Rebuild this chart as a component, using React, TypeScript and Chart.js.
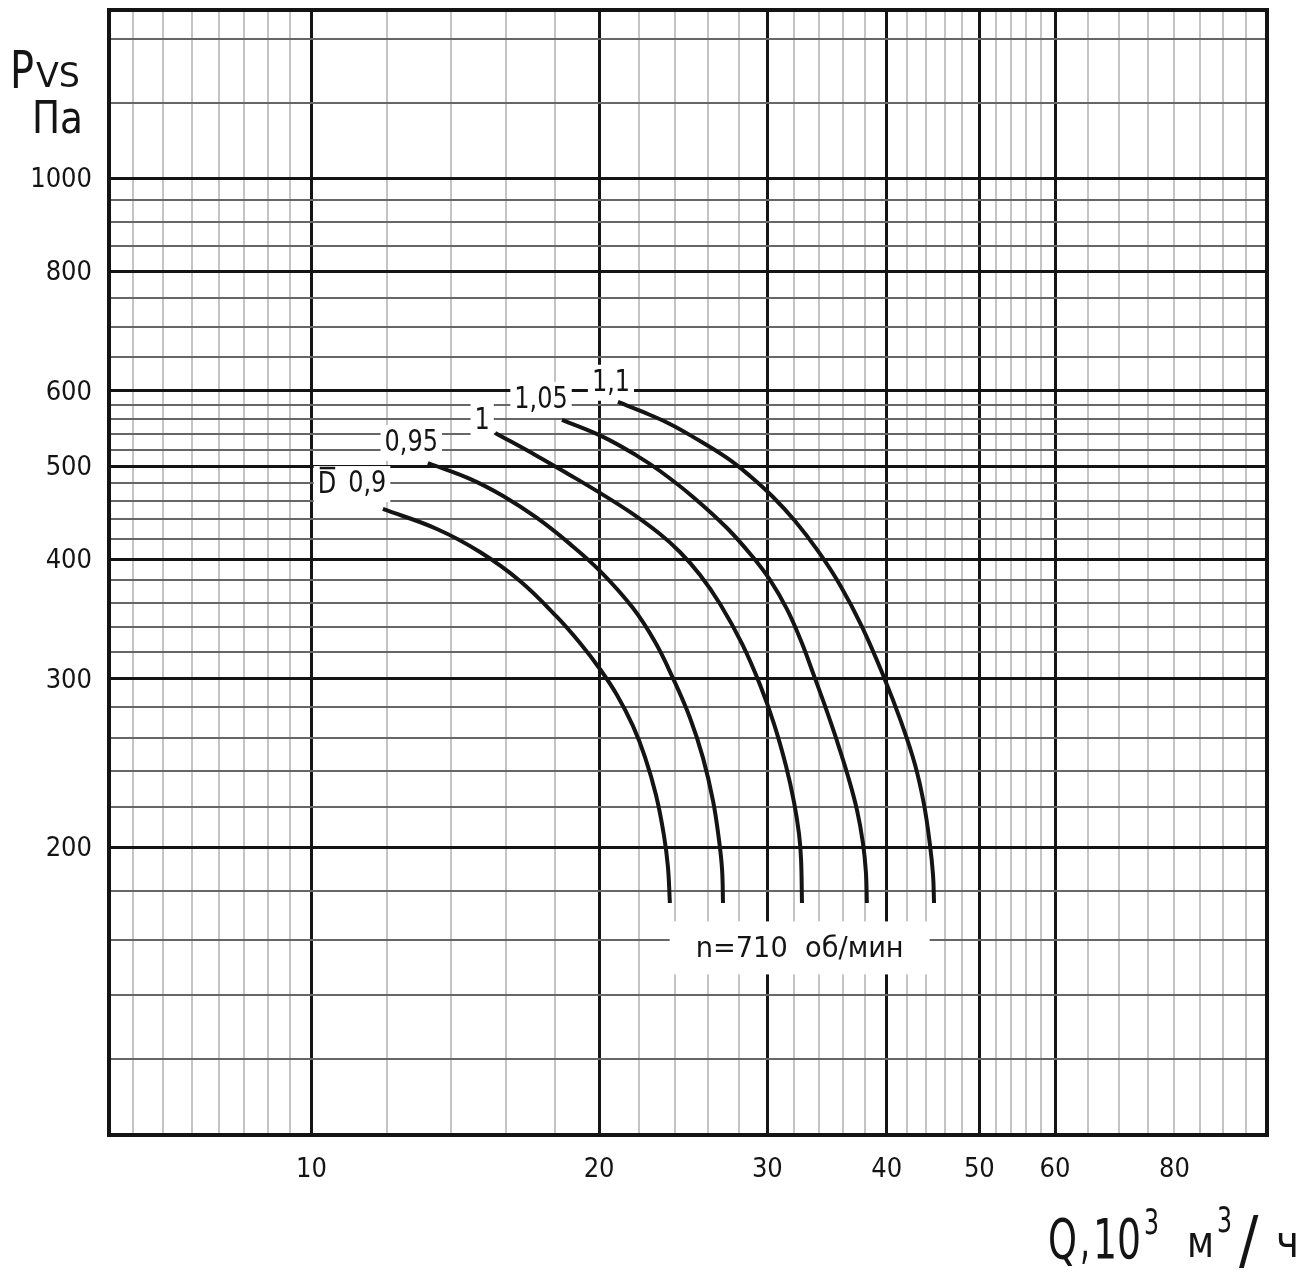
import React, { useEffect, useRef } from 'react';
import { Chart, registerables } from 'chart.js';

Chart.register(...registerables);

const FONT = '"DejaVu Sans Condensed", "DejaVu Sans", sans-serif';

// Q, 10^3 m3/h  and  Pvs, Pa  for each relative diameter D
const q090 = [11.88, 13.53, 15.01, 16.53, 18.07, 19.1, 20.04, 20.88, 21.7, 22.34, 22.94, 23.38, 23.61, 23.72];
const p090 = [451.3, 430.1, 406.9, 379.5, 348.0, 326.8, 307.0, 288.4, 267.7, 248.4, 226.7, 205.9, 190.6, 174.8];

const q095 = [13.24, 14.65, 15.87, 17.22, 18.64, 20.04, 21.7, 22.89, 23.89, 24.9, 25.69, 26.32, 26.7, 26.9, 26.96];
const p095 = [504.1, 485.2, 465.6, 441.6, 414.9, 388.8, 355.5, 327.6, 300.5, 272.9, 247.9, 223.5, 203.5, 189.3, 174.8];

const q100 = [15.57, 17.22, 18.64, 20.04, 21.54, 23.16, 24.3, 25.51, 26.77, 28.23, 29.48, 30.49, 31.38, 31.99, 32.38, 32.54, 32.61];
const p100 = [542.0, 512.8, 489.8, 469.1, 448.1, 424.9, 406.9, 385.0, 359.0, 326.1, 295.4, 268.9, 243.1, 222.9, 206.4, 193.9, 174.8];

const q105 = [18.29, 20.19, 21.92, 23.16, 25.08, 27.22, 28.91, 30.19, 31.45, 32.54, 33.49, 34.47, 35.48, 36.43, 37.23, 37.77, 38.04, 38.13];
const p105 = [559.2, 536.8, 512.8, 494.5, 464.6, 431.1, 402.9, 380.4, 354.6, 328.4, 304.1, 280.9, 258.2, 237.3, 218.7, 202.0, 188.4, 174.8];

const q110 = [20.93, 22.23, 23.72, 25.08, 27.22, 28.77, 30.34, 32.07, 33.89, 35.74, 37.69, 39.72, 41.41, 42.83, 43.77, 44.39, 44.72, 44.83];
const p110 = [583.9, 570.0, 553.8, 536.8, 510.3, 488.6, 465.6, 438.4, 407.9, 375.8, 339.8, 301.2, 270.3, 243.7, 221.3, 201.1, 187.0, 174.8];

const seriesQ = [q090, q095, q100, q105, q110];
const seriesP = [p090, p095, p100, p105, p110];

// curve labels (relative diameter) and their anchor values
const curveLabels = ['0,9', '0,95', '1', '1,05', '1,1'];
const curveLabelQ = [11.44, 12.72, 15.09, 17.39, 20.58];
const curveLabelP = [479.2, 529.1, 557.9, 586.9, 611.5];

const speedLabel = 'n=710  об/мин';
const speedLabelQ = 32.43;
const speedLabelP = 156.7;

// axes
const qMin = 6.14;
const qMax = 100;
const pMin = 100;
const pMax = 1500;
const qGrid = [6.5, 7, 7.5, 8, 8.5, 9, 9.5, 10, 12, 14, 16, 18, 20, 22, 24, 26, 28, 30, 32, 34, 36, 38, 40, 42, 44, 46, 48, 50, 52, 54, 56, 58, 60, 65, 70, 75, 80, 85, 90, 95];
const qMajor = [10, 20, 30, 40, 50, 60];
const qLabeled = [10, 20, 30, 40, 50, 60, 80];
const pGrid = [120, 140, 160, 180, 200, 220, 240, 260, 280, 300, 320, 340, 360, 380, 400, 420, 440, 460, 480, 500, 520, 540, 560, 580, 600, 650, 700, 750, 800, 850, 900, 950, 1000, 1200, 1400];
const pMajor = [200, 300, 400, 500, 600, 800, 1000];
const pLabeled = [200, 300, 400, 500, 600, 800, 1000];

const INK = '#141414';

function fitText(ctx: CanvasRenderingContext2D, text: string, left: number, baseline: number, size: number, width: number) {
  ctx.font = `${size}px ${FONT}`;
  const w = ctx.measureText(text).width;
  ctx.save();
  ctx.translate(left, baseline);
  ctx.scale(width / w, 1);
  ctx.textAlign = 'left';
  ctx.fillText(text, 0, 0);
  ctx.restore();
}

function scaledCenter(ctx: CanvasRenderingContext2D, text: string, cx: number, cy: number, size: number, sx: number) {
  ctx.font = `${size}px ${FONT}`;
  const w = ctx.measureText(text).width * sx;
  ctx.save();
  ctx.translate(cx - w / 2, cy);
  ctx.scale(sx, 1);
  ctx.textAlign = 'left';
  ctx.textBaseline = 'middle';
  ctx.fillText(text, 0, 0);
  ctx.restore();
  return w;
}

const decorPlugin = {
  id: 'decor',
  beforeDatasetsDraw(chart: any) {
    const { ctx } = chart;
    const xs = chart.scales.x;
    const ys = chart.scales.y;
    ctx.save();
    const SX = 0.86;
    const SIZE = 31;
    curveLabels.forEach((t, i) => {
      const px = xs.getPixelForValue(curveLabelQ[i]);
      const py = ys.getPixelForValue(curveLabelP[i]);
      ctx.font = `${SIZE}px ${FONT}`;
      const w = ctx.measureText(t).width * SX;
      const dW = ctx.measureText('D').width * SX;
      const dLeft = px - w / 2 - 12 - dW;
      const left = i === 0 ? dLeft - 4 : px - w / 2 - 4;
      const right = px + w / 2 + 4;
      ctx.fillStyle = '#fff';
      ctx.fillRect(left, py - 18, right - left, 36);
      ctx.fillStyle = INK;
      scaledCenter(ctx, t, px, py, SIZE, SX);
      if (i === 0) {
        scaledCenter(ctx, 'D', dLeft + dW / 2, py + 1, SIZE, SX);
        ctx.strokeStyle = INK;
        ctx.lineWidth = 2.5;
        ctx.beginPath();
        ctx.moveTo(dLeft + 2, py - 16);
        ctx.lineTo(dLeft + dW - 1, py - 16);
        ctx.stroke();
      }
    });
    // speed label
    const sx = xs.getPixelForValue(speedLabelQ);
    const sy = ys.getPixelForValue(speedLabelP);
    ctx.fillStyle = '#fff';
    ctx.fillRect(sx - 130, sy - 27, 260, 53);
    ctx.fillStyle = INK;
    ctx.textBaseline = 'middle';
    ctx.font = `28px ${FONT}`;
    const sw = ctx.measureText(speedLabel).width;
    ctx.save();
    ctx.translate(sx - 104, sy + 1);
    ctx.scale(208 / sw, 1);
    ctx.textAlign = 'left';
    ctx.fillText(speedLabel, 0, 0);
    ctx.restore();
    ctx.restore();
  },
  afterDraw(chart: any) {
    const { ctx, chartArea: a } = chart;
    ctx.save();
    ctx.strokeStyle = INK;
    ctx.lineWidth = 4;
    ctx.strokeRect(a.left, a.top, a.right - a.left, a.bottom - a.top);
    ctx.fillStyle = INK;
    ctx.textBaseline = 'alphabetic';
    // y title
    fitText(ctx, 'P', 10, 88, 51, 24);
    fitText(ctx, 'VS', 36, 87, 33, 44);
    fitText(ctx, 'Па', 32, 133, 44, 51);
    // x title
    fitText(ctx, 'Q', 1048, 1258, 56, 29);
    fitText(ctx, ',', 1080, 1258, 56, 10);
    fitText(ctx, '10', 1093, 1258, 56, 48);
    fitText(ctx, '3', 1144, 1234, 36, 15);
    fitText(ctx, 'м', 1187, 1257, 44, 27);
    fitText(ctx, '3', 1217, 1232, 36, 15);
    ctx.font = `64px ${FONT}`;
    ctx.textAlign = 'left';
    ctx.fillText('/', 1239, 1262);
    fitText(ctx, 'ч', 1276, 1257, 44, 23);
    ctx.restore();
  },
};

export default function App() {
  const ref = useRef<HTMLCanvasElement | null>(null);

  useEffect(() => {
    if (!ref.current) return;
    const datasets = seriesQ.map((qs, i) => ({
      label: 'D ' + curveLabels[i],
      data: qs.map((q, j) => ({ x: q, y: seriesP[i][j] })),
      borderColor: INK,
      borderWidth: 4,
      pointRadius: 0,
      tension: 0.4,
      fill: false,
    }));
    const chart = new Chart(ref.current, {
      type: 'line',
      data: { datasets },
      plugins: [decorPlugin],
      options: {
        animation: false,
        responsive: false,
        layout: { padding: { top: 10, right: 39, left: 0, bottom: 0 } },
        plugins: { legend: { display: false }, tooltip: { enabled: false }, title: { display: false } },
        scales: {
          x: {
            type: 'logarithmic',
            min: qMin,
            max: qMax,
            afterBuildTicks: (s: any) => {
              s.ticks = qGrid.map((v) => ({ value: v }));
            },
            afterFit: (s: any) => {
              s.height = 144;
              s.paddingLeft = 0;
              s.paddingRight = 0;
            },
            border: { display: false },
            grid: {
              drawTicks: false,
              color: (c: any) => (qMajor.includes(c.tick?.value) ? INK : '#c4c4c4'),
              lineWidth: (c: any) => (qMajor.includes(c.tick?.value) ? 3 : 2),
            },
            ticks: {
              autoSkip: false,
              maxRotation: 0,
              minRotation: 0,
              padding: 19,
              color: INK,
              font: { family: FONT, size: 27 },
              callback: (v: any) => (qLabeled.includes(Number(v)) ? String(v) : ''),
            },
          },
          y: {
            type: 'logarithmic',
            min: pMin,
            max: pMax,
            afterBuildTicks: (s: any) => {
              s.ticks = pGrid.map((v) => ({ value: v }));
            },
            afterFit: (s: any) => {
              s.width = 109;
              s.paddingTop = 0;
              s.paddingBottom = 0;
            },
            border: { display: false },
            grid: {
              drawTicks: false,
              color: (c: any) => (pMajor.includes(c.tick?.value) ? INK : '#666666'),
              lineWidth: (c: any) => (pMajor.includes(c.tick?.value) ? 3 : 2),
            },
            ticks: {
              autoSkip: false,
              padding: 17,
              labelOffset: 2,
              color: INK,
              font: { family: FONT, size: 27 },
              callback: (v: any) => (pLabeled.includes(Number(v)) ? String(v) : ''),
            },
          },
        },
      },
    });
    return () => chart.destroy();
  }, []);

  return (
    <div style={{ position: 'absolute', left: 0, top: 0, width: 1306, height: 1279, background: '#fff' }}>
      <canvas ref={ref} width={1306} height={1279} style={{ width: 1306, height: 1279, display: 'block' }} />
    </div>
  );
}
